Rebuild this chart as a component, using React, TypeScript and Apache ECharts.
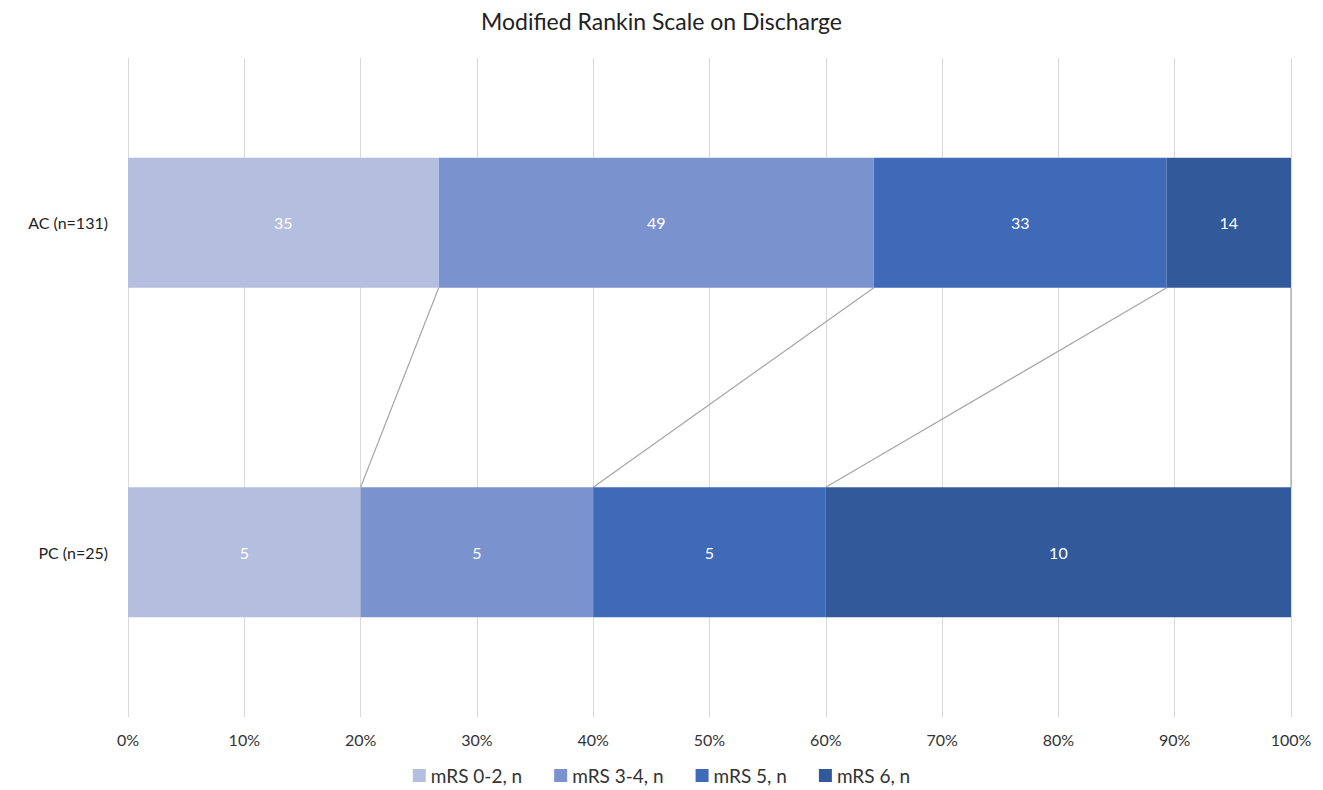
import React, { useEffect, useRef } from "react";
import * as echarts from "echarts";

const categories = ["AC (n=131)", "PC (n=25)"];
const seriesNames = ["mRS 0-2, n", "mRS 3-4, n", "mRS 5, n", "mRS 6, n"];
const mrs02 = [35, 5];
const mrs34 = [49, 5];
const mrs5 = [33, 5];
const mrs6 = [14, 10];
const xTickLabels = ["0%", "10%", "20%", "30%", "40%", "50%", "60%", "70%", "80%", "90%", "100%"];
const colors = ["#b4bfe0", "#7a93cf", "#3e6ab8", "#325a9a"];

export default function App() {
  const ref = useRef<HTMLDivElement>(null);
  useEffect(() => {
    if (!ref.current) return;
    const chart = echarts.init(ref.current, undefined, { renderer: "svg" });
    const counts = [mrs02, mrs34, mrs5, mrs6];
    const totals = categories.map((_, i) => counts.reduce((s, arr) => s + arr[i], 0));
    const pct = counts.map((arr) => arr.map((v, i) => (v / totals[i]) * 100));
    const cum: number[][] = [];
    let run = categories.map(() => 0);
    pct.forEach((arr) => {
      run = run.map((r, i) => r + arr[i]);
      cum.push([...run]);
    });
    const barW = 130;
    const font = "Lato, 'Open Sans', sans-serif";

    const barSeries = pct.map((arr, si) => ({
      name: seriesNames[si],
      type: "bar",
      stack: "total",
      barWidth: barW,
      itemStyle: { color: colors[si] },
      label: {
        show: true,
        position: "inside",
        color: "#ffffff",
        fontSize: 16,
        fontFamily: font,
        formatter: (p: any) => String(counts[si][p.dataIndex]),
      },
      data: arr,
      z: 3,
    }));

    const lineSeries = {
      type: "custom",
      name: "seriesLines",
      silent: true,
      encode: { x: [0, 1] },
      renderItem: (params: any, api: any) => {
        const a = api.coord([api.value(0), 0]);
        const b = api.coord([api.value(1), 1]);
        return {
          type: "line",
          shape: { x1: a[0], y1: a[1] + barW / 2, x2: b[0], y2: b[1] - barW / 2 },
          style: { stroke: "#a6a6a6", lineWidth: 1.2 },
        };
      },
      data: cum.map((c) => [c[0], c[1]]),
      z: 2,
    };

    chart.setOption({
      animation: false,
      title: {
        text: "Modified Rankin Scale on Discharge",
        left: "center",
        top: 1,
        padding: 0,
        textStyle: { fontSize: 23, fontWeight: "normal", color: "#222", fontFamily: font },
      },
      legend: {
        data: seriesNames,
        top: 758,
        left: "center",
        padding: 0,
        icon: "rect",
        itemWidth: 13,
        itemHeight: 13,
        itemGap: 32,
        textStyle: { fontSize: 19, color: "#333", fontFamily: font },
      },
      grid: { left: 120, right: 24, top: 50, bottom: 73, containLabel: false },
      xAxis: {
        type: "value",
        min: 0,
        max: 100,
        interval: 10,
        axisLine: { show: false },
        axisTick: { show: false },
        splitLine: { show: true, lineStyle: { color: "#d9d9d9", width: 1 } },
        axisLabel: {
          fontSize: 16,
          color: "#333",
          fontFamily: font,
          margin: 14,
          formatter: (v: number) => xTickLabels[Math.round(v / 10)],
        },
      },
      yAxis: {
        type: "category",
        data: categories,
        inverse: true,
        axisLine: { show: false },
        axisTick: { show: false },
        axisLabel: { fontSize: 16, color: "#222", fontFamily: font, margin: 20 },
      },
      series: [...barSeries, lineSeries],
    });
    return () => chart.dispose();
  }, []);
  return <div ref={ref} style={{ width: 1307, height: 782 }} />;
}
